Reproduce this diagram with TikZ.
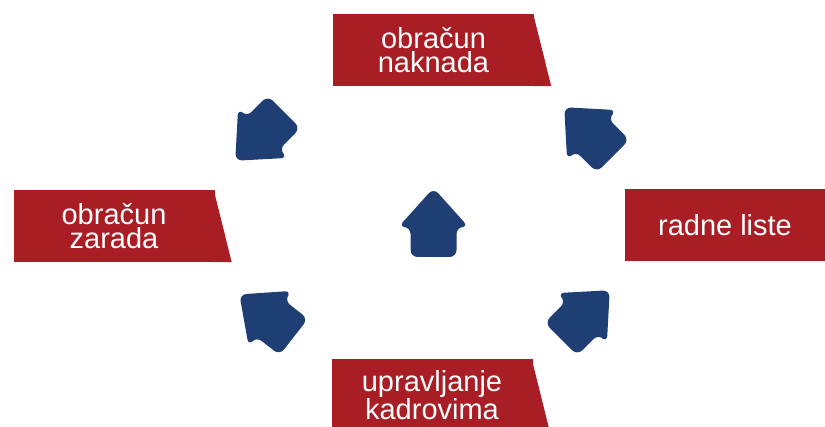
\documentclass[tikz,border=0pt]{standalone}
\usepackage{fontspec}
\setmainfont{Liberation Sans}
\definecolor{boxred}{RGB}{168,30,36}
\definecolor{arrowblue}{RGB}{31,62,116}

\begin{document}
\begin{tikzpicture}[x=1pt,y=1pt,
    box/.style={fill=boxred, text=white, inner sep=0pt, minimum width=201pt,
        minimum height=72pt, align=center, font=\fontsize{29}{24.5}\selectfont},
    homearrow/.style={fill=arrowblue, rounded corners=7pt}]

    \useasboundingbox (0,0) rectangle (825,427);

    \node[box] (naknada) at (433.5,377) {obračun\\naknada};
    \node[box] (zarada) at (114,201) {obračun\\zarada};
    \node[box] (liste) at (725,201.5) {radne liste};
    \node[box] (kadrovi) at (432,32) {upravljanje\\kadrovima};

    % slanted right ends
    \fill[boxred] ([xshift=-1pt]naknada.north east) -- ([xshift=17pt]naknada.south east) -- ([xshift=-1pt]naknada.south east) -- cycle;
    \fill[boxred] ([xshift=-1pt]zarada.north east) -- ([xshift=17pt]zarada.south east) -- ([xshift=-1pt]zarada.south east) -- cycle;
    \fill[boxred] ([xshift=-1pt]kadrovi.north east) -- ([xshift=17pt]kadrovi.south east) -- ([xshift=-1pt]kadrovi.south east) -- cycle;

    % arrows
    \foreach \x/\y/\r in {433.5/204/0, 260/291/135, 589/295/45, 585/112/-45, 267/111/52}
        \fill[homearrow, shift={(\x,\y)}, rotate=\r]
            (0,35) -- (35,-4) -- (23,-4) -- (23,-34) -- (-23,-34) -- (-23,-4) -- (-35,-4) -- cycle;

\end{tikzpicture}
\end{document}
